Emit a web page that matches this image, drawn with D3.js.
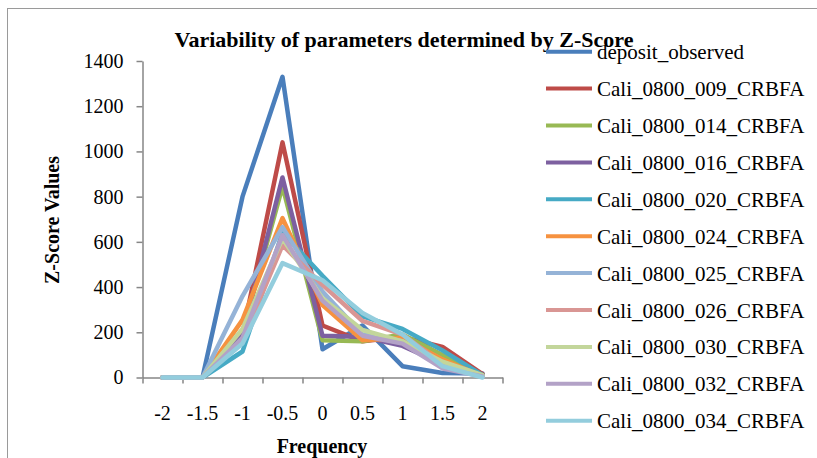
<!DOCTYPE html>
<html>
<head>
<meta charset="utf-8">
<script src="https://cdn.jsdelivr.net/npm/d3@7"></script>
<style>
  body { margin: 0; background: #fff; }
  svg text { fill: #000; }
</style>
</head>
<body>
<div id="chart"></div>
<script>
// categories on the x axis
var categories = ["-2", "-1.5", "-1", "-0.5", "0", "0.5", "1", "1.5", "2"];

// y tick values
var yTicks = [0, 200, 400, 600, 800, 1000, 1200, 1400];

// series names and values
var seriesNames = ["deposit_observed", "Cali_0800_009_CRBFA", "Cali_0800_014_CRBFA",
  "Cali_0800_016_CRBFA", "Cali_0800_020_CRBFA", "Cali_0800_024_CRBFA",
  "Cali_0800_025_CRBFA", "Cali_0800_026_CRBFA", "Cali_0800_030_CRBFA",
  "Cali_0800_032_CRBFA", "Cali_0800_034_CRBFA"];

var depositObserved = [0, 0, 800, 1330, 125, 230, 50, 20, 18];
var cali009 = [0, 0, 190, 1040, 230, 160, 180, 135, 15];
var cali014 = [0, 0, 200, 845, 165, 160, 190, 100, 10];
var cali016 = [0, 0, 190, 885, 185, 180, 140, 60, 10];
var cali020 = [0, 0, 115, 640, 450, 270, 215, 120, 10];
var cali024 = [0, 0, 255, 705, 320, 165, 175, 80, 5];
var cali025 = [0, 0, 360, 665, 380, 190, 160, 50, 5];
var cali026 = [0, 0, 165, 585, 410, 250, 190, 60, 5];
var cali030 = [0, 0, 215, 615, 350, 210, 160, 70, 10];
var cali032 = [0, 0, 175, 630, 340, 185, 150, 40, 5];
var cali034 = [0, 0, 150, 506, 430, 285, 190, 50, 0];

var seriesValues = [depositObserved, cali009, cali014, cali016, cali020, cali024,
  cali025, cali026, cali030, cali032, cali034];

var colors = ["#4a7ebb", "#be4b48", "#98b954", "#7d60a0", "#46aac5", "#f69240",
  "#95b3d7", "#d99694", "#c3d69b", "#b3a2c7", "#93cddd"];

var serif = "Liberation Serif, Times New Roman, Times, Tinos, Nimbus Roman, FreeSerif, Noto Serif, DejaVu Serif, serif";

var width = 817, height = 458;

var svg = d3.select("#chart").append("svg")
  .attr("width", width)
  .attr("height", height)
  .attr("font-family", serif);

// outer chart border
svg.append("rect")
  .attr("x", 7.5)
  .attr("y", 8.5)
  .attr("width", 820)
  .attr("height", 470)
  .style("fill", "none")
  .style("stroke", "#9a9a9a")
  .style("stroke-width", 1);

// scales
var plotLeft = 142.5, plotRight = 502.5, plotTop = 61, plotBottom = 377.5;

var x = d3.scaleBand()
  .domain(categories)
  .range([plotLeft, plotRight]);

var xEdge = d3.scaleLinear()
  .domain([0, categories.length])
  .range([plotLeft, plotRight]);

var y = d3.scaleLinear()
  .domain([0, 1400])
  .range([plotBottom, plotTop]);

// y axis
var yAxis = svg.append("g")
  .attr("transform", "translate(" + plotLeft + ",0)")
  .call(d3.axisLeft(y).tickValues(yTicks).tickFormat(d3.format("d")).tickSize(6).tickPadding(13).tickSizeOuter(0));
yAxis.attr("font-family", serif).attr("font-size", 20);
yAxis.selectAll("path").style("stroke", "#868686").style("stroke-width", 1.5);
yAxis.selectAll("line").style("stroke", "#868686").style("stroke-width", 1.5);

// x axis: ticks between categories, labels in the middle
var xTickAxis = svg.append("g")
  .attr("transform", "translate(0," + plotBottom + ")")
  .call(d3.axisBottom(xEdge).tickValues(d3.range(categories.length + 1)).tickFormat("").tickSize(6).tickSizeOuter(0));
xTickAxis.selectAll("path").style("stroke", "#868686").style("stroke-width", 1.5);
xTickAxis.selectAll("line").style("stroke", "#868686").style("stroke-width", 1.5);

var xLabelAxis = svg.append("g")
  .attr("transform", "translate(0," + plotBottom + ")")
  .call(d3.axisBottom(x).tickSize(0).tickPadding(28));
xLabelAxis.attr("font-family", serif).attr("font-size", 20);
xLabelAxis.select(".domain").remove();

// lines
var line = d3.line()
  .x(function(d, i) { return x(categories[i]) + x.bandwidth() / 2; })
  .y(function(d) { return y(d); });

svg.append("g")
  .selectAll("path")
  .data(seriesValues)
  .enter().append("path")
  .attr("d", line)
  .style("fill", "none")
  .style("stroke", function(d, i) { return colors[i]; })
  .style("stroke-width", 4.5)
  .style("stroke-linejoin", "round")
  .style("stroke-linecap", "round");

// title
svg.append("text")
  .attr("x", 404)
  .attr("y", 47)
  .attr("text-anchor", "middle")
  .attr("font-size", 22)
  .attr("font-weight", "bold")
  .text("Variability of parameters determined by Z-Score");

// axis titles
svg.append("text")
  .attr("transform", "translate(59," + 220 + ")rotate(-90)")
  .attr("text-anchor", "middle")
  .attr("font-size", 20)
  .attr("font-weight", "bold")
  .text("Z-Score Values");

svg.append("text")
  .attr("x", 322)
  .attr("y", 453)
  .attr("text-anchor", "middle")
  .attr("font-size", 20)
  .attr("font-weight", "bold")
  .text("Frequency");

// legend
var legendY = d3.scaleLinear()
  .domain([0, seriesNames.length - 1])
  .range([51.7, 420.7]);

var legend = svg.append("g")
  .selectAll("g")
  .data(seriesNames)
  .enter().append("g")
  .attr("transform", function(d, i) { return "translate(0," + legendY(i) + ")"; });

legend.append("line")
  .attr("x1", 546)
  .attr("x2", 592)
  .attr("y1", 0)
  .attr("y2", 0)
  .style("stroke", function(d, i) { return colors[i]; })
  .style("stroke-width", 4);

legend.append("text")
  .attr("x", 597)
  .attr("y", 7.5)
  .attr("font-size", 21)
  .text(function(d) { return d; });
</script>
</body>
</html>
